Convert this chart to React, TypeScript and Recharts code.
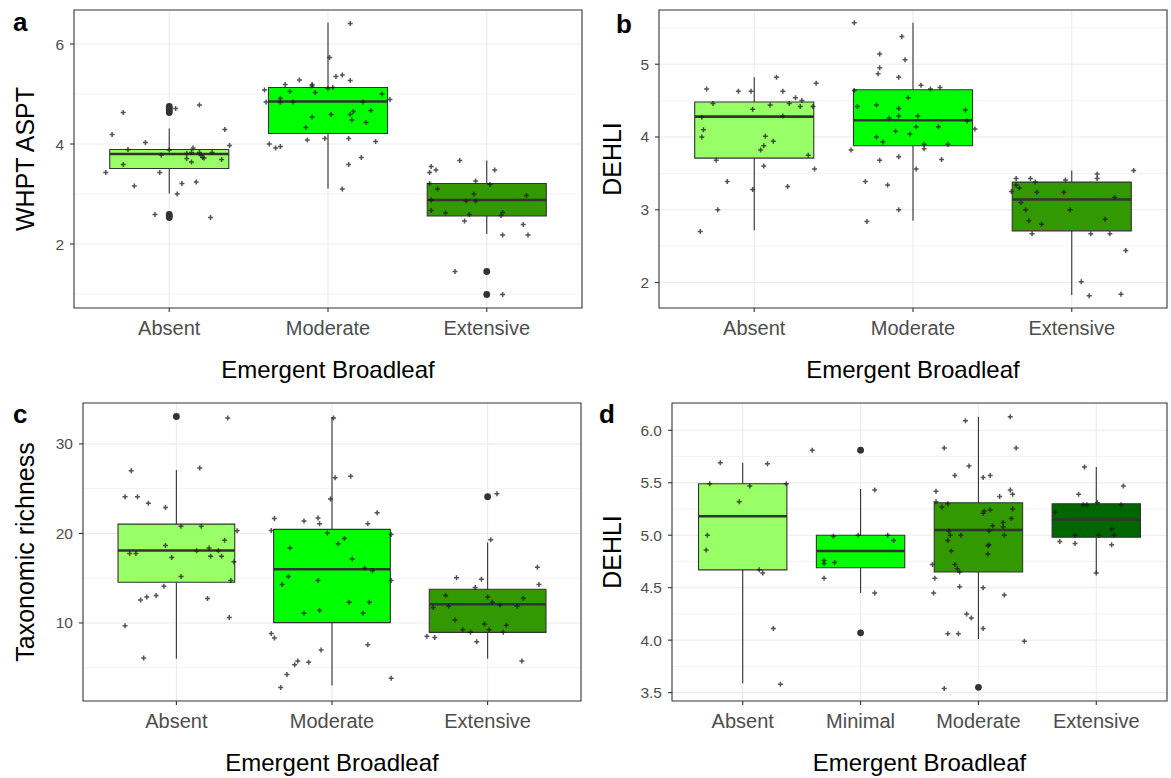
import React from 'react';
import {
  ScatterChart,
  Scatter,
  XAxis,
  YAxis,
  CartesianGrid,
  ReferenceArea,
  ReferenceLine,
} from 'recharts';

const FONT = '"Liberation Sans", Arial, Helvetica, sans-serif';

// ---- categories ----
const catsThree = ['Absent', 'Moderate', 'Extensive'];
const catsFour = ['Absent', 'Minimal', 'Moderate', 'Extensive'];

const coloursThree = ['#99FF66', '#00FF00', '#339900'];
const coloursFour = ['#99FF66', '#00FF00', '#339900', '#006600'];

// ---- panel a: WHPT ASPT ----
// [lower whisker, Q1, median, Q3, upper whisker]
const aBoxes = [
  [3.01, 3.51, 3.8, 3.89, 4.31],
  [3.11, 4.21, 4.85, 5.13, 6.43],
  [2.2, 2.56, 2.88, 3.21, 3.67],
];
// [category number, value]
const aOutliers = [
  [1, 4.63], [1, 4.67], [1, 4.71], [1, 4.75],
  [1, 2.53], [1, 2.56], [1, 2.59],
  [3, 1.45], [3, 0.99],
];
// [jitter offset, value]
const aAbsent = [
  [-0.4, 3.43], [-0.36, 4.19], [-0.29, 4.63], [-0.29, 3.59], [-0.26, 3.89], [-0.22, 3.16],
  [-0.15, 4.03], [-0.09, 2.59], [-0.06, 3.43], [-0.05, 3.78], [0.0, 3.88], [0.04, 4.71],
  [0.05, 3.0], [0.08, 3.21], [0.11, 3.81], [0.11, 3.71], [0.14, 3.83], [0.14, 3.64],
  [0.15, 3.92], [0.17, 3.24], [0.19, 4.78], [0.19, 3.83], [0.2, 3.77], [0.21, 3.73],
  [0.22, 3.72], [0.26, 2.53], [0.27, 3.83], [0.33, 3.69], [0.35, 4.29], [0.38, 3.97],
];
const aModerate = [
  [-0.4, 5.08], [-0.39, 4.84], [-0.37, 4.0], [-0.33, 3.92], [-0.3, 3.95], [-0.3, 4.91],
  [-0.3, 4.83], [-0.27, 5.19], [-0.24, 5.05], [-0.22, 4.84], [-0.18, 5.28], [-0.14, 4.33],
  [-0.13, 4.08], [-0.1, 5.19], [-0.1, 5.16], [-0.1, 4.54], [-0.08, 5.03], [-0.02, 4.11],
  [0.0, 5.11], [0.01, 5.73], [0.02, 4.59], [0.03, 5.13], [0.05, 5.35], [0.09, 5.38],
  [0.09, 3.1], [0.13, 4.11], [0.13, 3.59], [0.14, 4.59], [0.14, 6.41], [0.14, 5.27],
  [0.15, 4.48], [0.16, 4.65], [0.21, 3.73], [0.22, 4.84], [0.24, 4.43], [0.27, 4.67],
  [0.3, 4.05], [0.34, 5.0], [0.39, 4.89],
];
const aExtensive = [
  [-0.36, 3.43], [-0.35, 3.55], [-0.32, 3.48], [-0.36, 3.21], [-0.31, 3.1], [-0.35, 2.88],
  [-0.35, 2.67], [-0.26, 2.62], [-0.2, 1.45], [-0.17, 3.67], [-0.14, 2.46], [-0.13, 2.86],
  [-0.11, 2.59], [-0.08, 3.0], [-0.07, 3.26], [-0.07, 2.86], [0.02, 3.19], [0.05, 3.48],
  [0.09, 2.57], [0.1, 2.63], [0.1, 2.18], [0.1, 0.99], [0.23, 2.39], [0.25, 2.97], [0.26, 2.18],
];

// ---- panel b: DEHLI ----
const bBoxes = [
  [2.72, 3.71, 4.28, 4.48, 4.82],
  [2.85, 3.88, 4.23, 4.65, 5.57],
  [1.83, 2.71, 3.14, 3.38, 3.54],
];
const bOutliers: number[][] = [];
const bAbsent = [
  [-0.34, 2.7], [-0.33, 4.27], [-0.33, 4.0], [-0.32, 4.1], [-0.3, 4.66], [-0.26, 4.46],
  [-0.24, 3.68], [-0.23, 3.0], [-0.17, 3.39], [-0.1, 4.63], [-0.02, 4.63], [-0.01, 4.38],
  [-0.01, 3.28], [0.04, 3.82], [0.06, 3.88], [0.06, 3.6], [0.07, 4.01], [0.1, 4.44],
  [0.12, 3.94], [0.14, 4.82], [0.18, 4.63], [0.18, 4.29], [0.21, 3.32], [0.22, 4.46],
  [0.26, 4.54], [0.29, 4.42], [0.3, 4.5], [0.34, 3.75], [0.37, 4.42], [0.38, 3.56], [0.39, 4.74],
];
const bModerate = [
  [-0.39, 3.82], [-0.37, 5.57], [-0.37, 4.64], [-0.35, 4.42], [-0.3, 3.39], [-0.29, 2.84],
  [-0.23, 4.44], [-0.23, 4.0], [-0.22, 4.87], [-0.21, 5.14], [-0.21, 4.95], [-0.21, 3.68],
  [-0.19, 3.93], [-0.16, 3.34], [-0.15, 4.26], [-0.11, 4.08], [-0.09, 4.82], [-0.09, 4.39],
  [-0.09, 3.73], [-0.09, 4.29], [-0.09, 3.0], [-0.07, 5.38], [-0.05, 5.06], [-0.03, 4.54],
  [-0.02, 4.04], [0.02, 3.56], [0.02, 4.14], [0.03, 4.29], [0.05, 4.71], [0.07, 3.9],
  [0.07, 3.84], [0.11, 4.66], [0.16, 4.14], [0.17, 4.68], [0.18, 3.69], [0.22, 3.9],
  [0.33, 4.37], [0.34, 4.22], [0.39, 4.11],
];
const bExtensive = [
  [-0.38, 3.25], [-0.35, 3.43], [-0.35, 3.34], [-0.33, 3.3], [-0.32, 3.1], [-0.29, 3.0],
  [-0.27, 2.85], [-0.26, 3.43], [-0.25, 2.67], [-0.23, 3.38], [-0.22, 3.24], [-0.19, 2.8],
  [-0.05, 3.24], [-0.04, 3.41], [-0.01, 3.0], [0.06, 2.01], [0.11, 1.82], [0.12, 2.67],
  [0.16, 3.43], [0.16, 3.49], [0.21, 2.87], [0.24, 2.67], [0.27, 3.17], [0.31, 1.84],
  [0.34, 2.44], [0.39, 3.54],
];

// ---- panel c: Taxonomic richness ----
const cBoxes = [
  [6.01, 14.55, 18.1, 21.04, 27.09],
  [3.02, 10.04, 16.0, 20.45, 33.0],
  [6.01, 8.95, 12.09, 13.77, 19.0],
];
const cOutliers = [[1, 33.06], [3, 24.1]];
const cAbsent = [
  [-0.33, 9.7], [-0.33, 24.1], [-0.3, 17.77], [-0.29, 27.0], [-0.26, 17.77], [-0.25, 24.1],
  [-0.23, 12.57], [-0.21, 6.08], [-0.19, 12.9], [-0.18, 23.36], [-0.13, 13.06], [-0.08, 14.1],
  [-0.07, 18.66], [-0.07, 22.9], [-0.03, 17.32], [0.03, 15.19], [0.03, 20.79], [0.13, 18.06],
  [0.15, 27.31], [0.16, 20.79], [0.2, 12.72], [0.21, 18.36], [0.22, 17.46], [0.27, 18.06],
  [0.29, 17.46], [0.31, 19.25], [0.33, 32.9], [0.34, 10.6], [0.35, 14.74], [0.37, 16.83],
  [0.39, 20.3],
];
const cModerate = [
  [-0.39, 8.81], [-0.37, 21.68], [-0.39, 20.34], [-0.37, 8.32], [-0.33, 2.8], [-0.32, 14.29],
  [-0.29, 4.25], [-0.28, 15.19], [-0.27, 18.36], [-0.24, 5.34], [-0.22, 5.74], [-0.18, 21.38],
  [-0.18, 11.08], [-0.15, 5.6], [-0.09, 21.72], [-0.08, 21.08], [-0.09, 14.74], [-0.08, 11.38],
  [-0.07, 6.97], [-0.03, 20.04], [-0.01, 23.84], [0.01, 32.9], [0.02, 26.23], [0.04, 18.84],
  [0.08, 19.44], [0.11, 12.31], [0.12, 26.38], [0.13, 17.13], [0.2, 11.08], [0.21, 16.12],
  [0.23, 21.08], [0.23, 7.57], [0.24, 12.31], [0.26, 15.82], [0.29, 22.31], [0.38, 19.89],
  [0.38, 14.74], [0.38, 3.81],
];
const cExtensive = [
  [-0.39, 8.51], [-0.34, 8.36], [-0.35, 11.72], [-0.27, 13.06], [-0.25, 11.87], [-0.21, 10.34],
  [-0.2, 15.04], [-0.16, 9.25], [-0.11, 8.95], [-0.08, 13.96], [-0.07, 7.91], [-0.04, 14.89],
  [-0.02, 9.89], [0.0, 12.9], [0.01, 9.25], [0.02, 19.29], [0.03, 12.31], [0.06, 24.44],
  [0.08, 12.01], [0.1, 8.95], [0.12, 9.74], [0.19, 11.87], [0.22, 5.74], [0.23, 12.76],
  [0.32, 16.23], [0.33, 14.29],
];

// ---- panel d: DEHLI, four classes ----
const dBoxes = [
  [3.59, 4.67, 5.18, 5.49, 5.69],
  [4.45, 4.69, 4.85, 5.0, 5.44],
  [4.01, 4.65, 5.05, 5.31, 6.13],
  [4.64, 4.98, 5.15, 5.3, 5.65],
];
const dOutliers = [[2, 5.81], [2, 4.07], [3, 3.55]];
const dAbsent = [
  [-0.31, 4.86], [-0.3, 5.0], [-0.28, 5.49], [-0.19, 5.69], [-0.03, 5.32], [0.06, 5.47],
  [0.14, 4.67], [0.17, 4.64], [0.21, 5.68], [0.26, 4.11], [0.32, 3.58], [0.37, 5.49],
];
const dMinimal = [
  [-0.41, 5.81], [-0.31, 4.76], [-0.31, 4.73], [-0.31, 4.59], [-0.23, 4.99], [-0.22, 4.74],
  [-0.02, 5.0], [0.12, 5.43], [0.12, 4.45], [0.23, 5.0], [0.28, 4.95],
];
const dModerate = [
  [-0.39, 4.72], [-0.38, 4.45], [-0.37, 4.59], [-0.36, 5.42], [-0.36, 5.32], [-0.31, 5.27],
  [-0.29, 5.83], [-0.29, 3.54], [-0.26, 5.3], [-0.26, 4.95], [-0.26, 4.06], [-0.25, 5.04],
  [-0.24, 5.0], [-0.23, 4.85], [-0.2, 5.57], [-0.2, 4.72], [-0.18, 4.68], [-0.17, 4.06],
  [-0.16, 4.65], [-0.16, 4.51], [-0.15, 5.0], [-0.11, 6.09], [-0.1, 4.25], [-0.08, 5.66],
  [-0.06, 4.21], [0.04, 5.55], [0.04, 5.21], [0.05, 5.23], [0.04, 4.5], [0.04, 4.11],
  [0.08, 4.82], [0.08, 4.9], [0.09, 4.91], [0.09, 5.04], [0.1, 5.57], [0.1, 5.24],
  [0.12, 5.09], [0.18, 5.37], [0.21, 5.12], [0.21, 5.08], [0.22, 4.43], [0.22, 5.0],
  [0.27, 6.13], [0.27, 5.43], [0.28, 5.16], [0.29, 5.25], [0.29, 5.39], [0.32, 5.83], [0.39, 3.99],
];
const dExtensive = [
  [-0.35, 5.22], [-0.31, 4.94], [-0.18, 5.0], [-0.18, 4.92], [-0.15, 5.39], [-0.11, 5.29],
  [-0.1, 5.65], [-0.08, 5.29], [0.0, 4.64], [0.01, 5.31], [0.02, 5.0], [0.13, 5.06],
  [0.13, 4.91], [0.15, 5.0], [0.21, 5.29], [0.23, 5.47],
];

// ---- marks ----
const PlusMark = (p: any) => {
  const { cx, cy } = p;
  if (cx == null || cy == null) return null;
  return (
    <path
      d={`M${cx - 2.5},${cy}h5M${cx},${cy - 2.5}v5`}
      stroke="#1a1a1a"
      strokeOpacity={0.75}
      strokeWidth={1.5}
      fill="none"
    />
  );
};

const OutlierMark = (p: any) => {
  const { cx, cy } = p;
  if (cx == null || cy == null) return null;
  return <circle cx={cx} cy={cy} r={3.4} fill="#333333" />;
};

const XTitle = (p: any) => {
  const vb = p.viewBox || {};
  return (
    <text
      x={vb.x + vb.width / 2}
      y={vb.y + p.drop}
      textAnchor="middle"
      fontSize={24}
      fontFamily={FONT}
      fill="#000"
    >
      {p.text}
    </text>
  );
};

const YTitle = (p: any) => {
  const vb = p.viewBox || {};
  const x = vb.x + vb.width - p.gap;
  const y = vb.y + vb.height / 2;
  return (
    <text
      x={x}
      y={y}
      transform={`rotate(-90, ${x}, ${y})`}
      textAnchor="middle"
      fontSize={25}
      fontFamily={FONT}
      fill="#000"
    >
      {p.text}
    </text>
  );
};

type PanelProps = {
  left: number;
  top: number;
  width: number;
  height: number;
  marginTop: number;
  marginRight: number;
  yWidth: number;
  xHeight: number;
  cats: string[];
  colours: string[];
  boxes: number[][];
  outliers: number[][];
  jitter: number[][][];
  yDomain: [number, number];
  yTicks: number[];
  yMinor: number[];
  yTitle: string;
  yGap: number;
  decimals: number;
};

function Panel(props: PanelProps) {
  const {
    left, top, width, height, marginTop, marginRight, yWidth, xHeight,
    cats, colours, boxes, outliers, jitter, yDomain, yTicks, yMinor, yTitle, yGap, decimals,
  } = props;
  const xDomain: [number, number] = [0.4, cats.length + 0.6];
  const xTicks = cats.map((_, i) => i + 1);
  const half = 0.375;

  const jitterData = jitter.flatMap((pts, i) => pts.map(([o, v]) => ({ x: i + 1 + o, y: v })));
  const outlierData = outliers.map(([c, v]) => ({ x: c, y: v }));

  return (
    <div style={{ position: 'absolute', left, top, width, height }}>
      <ScatterChart
        width={width}
        height={height}
        margin={{ top: marginTop, right: marginRight, bottom: 0, left: 0 }}
      >
        <CartesianGrid
          stroke="#EBEBEB"
          strokeWidth={0.6}
          vertical={false}
          horizontalValues={yMinor}
        />
        <CartesianGrid stroke="#EBEBEB" strokeWidth={1.1} verticalValues={xTicks} horizontalValues={yTicks} />
        <XAxis
          type="number"
          dataKey="x"
          domain={xDomain}
          allowDataOverflow
          ticks={xTicks}
          interval={0}
          tickFormatter={(v: number) => cats[v - 1]}
          axisLine={false}
          tickLine={{ stroke: '#333333', strokeWidth: 1.1 }}
          tickSize={4}
          tickMargin={9}
          height={xHeight}
          tick={{ fontSize: 20, fill: '#4D4D4D', fontFamily: FONT }}
          label={<XTitle text="Emergent Broadleaf" drop={70} />}
        />
        <YAxis
          type="number"
          dataKey="y"
          domain={yDomain}
          allowDataOverflow
          ticks={yTicks}
          interval={0}
          tickFormatter={(v: number) => v.toFixed(decimals)}
          axisLine={false}
          tickLine={{ stroke: '#333333', strokeWidth: 1.1 }}
          tickSize={4}
          tickMargin={6}
          width={yWidth}
          tick={{ fontSize: 15.5, fill: '#4D4D4D', fontFamily: FONT }}
          label={<YTitle text={yTitle} gap={yGap} />}
        />
        {boxes.map((b, i) => (
          <ReferenceLine
            key={`wu${i}`}
            segment={[{ x: i + 1, y: b[3] }, { x: i + 1, y: b[4] }]}
            stroke="#333333"
            strokeWidth={1.1}
          />
        ))}
        {boxes.map((b, i) => (
          <ReferenceLine
            key={`wl${i}`}
            segment={[{ x: i + 1, y: b[0] }, { x: i + 1, y: b[1] }]}
            stroke="#333333"
            strokeWidth={1.1}
          />
        ))}
        {boxes.map((b, i) => (
          <ReferenceArea
            key={`box${i}`}
            x1={i + 1 - half}
            x2={i + 1 + half}
            y1={b[1]}
            y2={b[3]}
            fill={colours[i]}
            fillOpacity={1}
            stroke="#333333"
            strokeWidth={1.1}
          />
        ))}
        {boxes.map((b, i) => (
          <ReferenceLine
            key={`med${i}`}
            segment={[{ x: i + 1 - half, y: b[2] }, { x: i + 1 + half, y: b[2] }]}
            stroke="#333333"
            strokeWidth={2.6}
          />
        ))}
        <ReferenceArea
          x1={xDomain[0]}
          x2={xDomain[1]}
          y1={yDomain[0]}
          y2={yDomain[1]}
          fill="none"
          stroke="#333333"
          strokeWidth={1.1}
        />
        <Scatter data={outlierData} shape={OutlierMark} isAnimationActive={false} />
        <Scatter data={jitterData} shape={PlusMark} isAnimationActive={false} />
      </ScatterChart>
    </div>
  );
}

const letterStyle: React.CSSProperties = {
  position: 'absolute',
  fontFamily: FONT,
  fontWeight: 'bold',
  fontSize: 26,
  lineHeight: '26px',
  color: '#000',
};

export default function App() {
  return (
    <div
      style={{
        position: 'absolute',
        left: 0,
        top: 0,
        width: 1171,
        height: 778,
        background: '#fff',
        fontFamily: FONT,
        overflow: 'hidden',
      }}
    >
      <Panel
        left={0} top={0} width={590} height={390} marginTop={10} marginRight={8}
        yWidth={74} xHeight={82}
        cats={catsThree} colours={coloursThree}
        boxes={aBoxes} outliers={aOutliers} jitter={[aAbsent, aModerate, aExtensive]}
        yDomain={[0.72, 6.68]} yTicks={[2, 4, 6]} yMinor={[1, 3, 5]}
        yTitle="WHPT ASPT" yGap={40} decimals={0}
      />
      <Panel
        left={585} top={0} width={586} height={390} marginTop={10} marginRight={4}
        yWidth={74} xHeight={82}
        cats={catsThree} colours={coloursThree}
        boxes={bBoxes} outliers={bOutliers} jitter={[bAbsent, bModerate, bExtensive]}
        yDomain={[1.65, 5.745]} yTicks={[2, 3, 4, 5]} yMinor={[2.5, 3.5, 4.5, 5.5]}
        yTitle="DEHLI" yGap={38} decimals={0}
      />
      <Panel
        left={0} top={390} width={590} height={388} marginTop={13} marginRight={9}
        yWidth={83} xHeight={77}
        cats={catsThree} colours={coloursThree}
        boxes={cBoxes} outliers={cOutliers} jitter={[cAbsent, cModerate, cExtensive]}
        yDomain={[1.28, 34.57]} yTicks={[10, 20, 30]} yMinor={[5, 15, 25]}
        yTitle="Taxonomic richness" yGap={49} decimals={0}
      />
      <Panel
        left={585} top={390} width={586} height={388} marginTop={13} marginRight={4}
        yWidth={87} xHeight={77}
        cats={catsFour} colours={coloursFour}
        boxes={dBoxes} outliers={dOutliers} jitter={[dAbsent, dMinimal, dModerate, dExtensive]}
        yDomain={[3.42, 6.26]} yTicks={[3.5, 4, 4.5, 5, 5.5, 6]}
        yMinor={[3.75, 4.25, 4.75, 5.25, 5.75, 6.25]}
        yTitle="DEHLI" yGap={51} decimals={1}
      />
      <div style={{ ...letterStyle, left: 13, top: 9 }}>a</div>
      <div style={{ ...letterStyle, left: 616, top: 11 }}>b</div>
      <div style={{ ...letterStyle, left: 13, top: 401 }}>c</div>
      <div style={{ ...letterStyle, left: 599, top: 401 }}>d</div>
    </div>
  );
}
